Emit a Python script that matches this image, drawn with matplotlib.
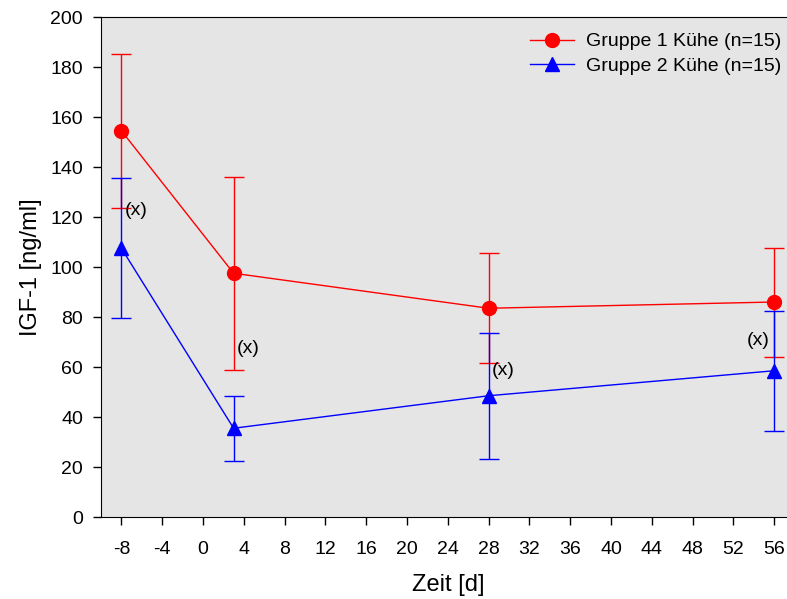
import matplotlib.pyplot as plt

plt.rcParams['font.family'] = ['Liberation Sans', 'DejaVu Sans']
plt.rcParams['axes.unicode_minus'] = False

# Zeit [d]
days = [-8, 3, 28, 56]
# Gruppe 1
g1_mean = [154.5, 97.5, 83.5, 86.0]
g1_err = [30.8, 38.5, 22.0, 21.8]
# Gruppe 2
g2_mean = [107.5, 35.5, 48.5, 58.5]
g2_err = [28.0, 13.0, 25.2, 24.0]
labels = ['Gruppe 1 Kühe (n=15)', 'Gruppe 2 Kühe (n=15)']

# (x) marks: positions in data coords
mark_x = [-8, 3, 28, 56]
mark_y = [122.5, 67.5, 58.5, 70.5]
mark_ha = ['left', 'left', 'left', 'right']

fig = plt.figure(figsize=(7.87, 5.99), dpi=100)
ax = fig.add_axes([101 / 787, 82 / 599, 693.6 / 787, 500 / 599])
ax.set_facecolor('#e5e5e5')

ax.errorbar(days, g1_mean, yerr=g1_err, color='red', marker='o', ms=10,
            lw=1, elinewidth=1, capsize=7, capthick=1, label=labels[0], zorder=3)
ax.errorbar(days, g2_mean, yerr=g2_err, color='blue', marker='^', ms=10,
            lw=1, elinewidth=1, capsize=7, capthick=1, label=labels[1], zorder=3)

for mx, my, ha in zip(mark_x, mark_y, mark_ha):
    off = 0.3 if ha == 'left' else -0.4
    ax.text(mx + off, my, '(x)', ha=ha, va='center', fontsize=14)

ax.set_xlim(-10, 58)
ax.set_ylim(0, 200)
ax.set_xticks(range(-8, 57, 4))
ax.set_yticks(range(0, 201, 20))
ax.tick_params(labelsize=14, length=6, width=1, direction='out')
ax.tick_params(axis='x', pad=11)
ax.tick_params(axis='y', pad=7)
ax.spines['right'].set_visible(False)
ax.set_xlabel('Zeit [d]', fontsize=17, labelpad=12)
ax.set_ylabel('IGF-1 [ng/ml]', fontsize=17, labelpad=6)

handles, labs = ax.get_legend_handles_labels()
handles = [h[0] for h in handles]
fig.legend(handles, labs, loc='upper right', bbox_to_anchor=(789 / 787, 1 - 25 / 599),
           frameon=False, fontsize=14, handlelength=2.3, handletextpad=0.6,
           labelspacing=0.35, borderaxespad=0)

fig.savefig('out.png', dpi=100)
